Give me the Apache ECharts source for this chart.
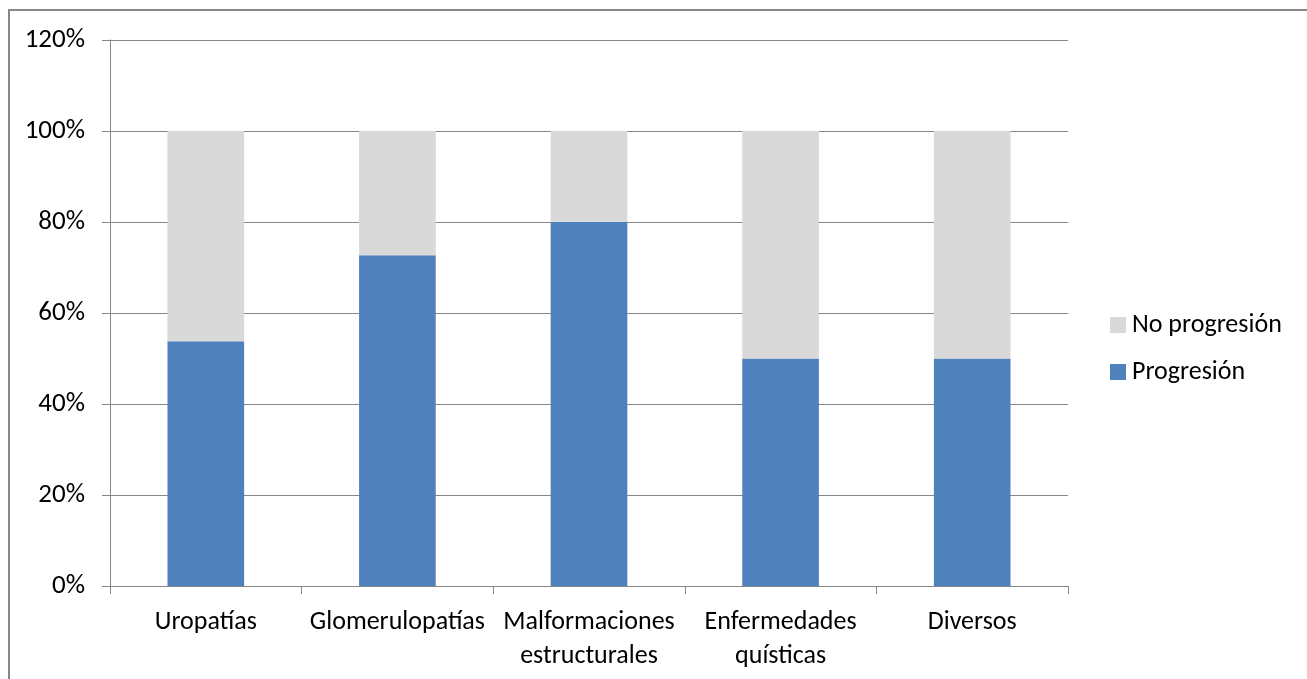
<!DOCTYPE html>
<html>
<head>
<meta charset="utf-8">
<script src="https://cdn.jsdelivr.net/npm/echarts@6/dist/echarts.min.js"></script>
<style>
html,body{margin:0;padding:0;background:#fff;}
#chart{width:1307px;height:679px;}
</style>
</head>
<body>
<div id="chart"></div>
<script>
const categories = ['Uropatías', 'Glomerulopatías', 'Malformaciones\nestructurales', 'Enfermedades\nquísticas', 'Diversos'];
const progresion = [53.8, 72.7, 80, 50, 50];
const noProgresion = [46.2, 27.3, 20, 50, 50];
const seriesNames = ['Progresión', 'No progresión'];
const yTicks = [0, 20, 40, 60, 80, 100, 120];

const FONT = 'Carlito, Lato, "Open Sans", sans-serif';
const GRAY = '#868686';

const chart = echarts.init(document.getElementById('chart'), null, {renderer: 'canvas'});
chart.setOption({
  animation: false,
  backgroundColor: '#fff',
  textStyle: {fontFamily: FONT, color: '#000'},
  graphic: [{
    type: 'rect',
    shape: {x: 9, y: 10, width: 1400, height: 800},
    style: {fill: 'none', stroke: GRAY, lineWidth: 2},
    silent: true
  }],
  grid: {left: 110, top: 40, right: 239, bottom: 93, containLabel: false},
  legend: {
    orient: 'vertical',
    left: 1105,
    top: 306,
    icon: 'rect',
    itemWidth: 16,
    itemHeight: 16,
    itemGap: 19,
    data: [seriesNames[1], seriesNames[0]],
    textStyle: {fontFamily: FONT, fontSize: 26, color: '#000', lineHeight: 28, padding: [0, 0, 0, 1]}
  },
  xAxis: {
    type: 'category',
    data: categories,
    boundaryGap: true,
    axisLine: {lineStyle: {color: GRAY, width: 1}},
    axisTick: {show: true, length: 8, lineStyle: {color: GRAY}},
    axisLabel: {fontFamily: FONT, fontSize: 26, color: '#000', margin: 19, lineHeight: 34, interval: 0}
  },
  yAxis: {
    type: 'value',
    min: 0,
    max: 120,
    interval: 20,
    axisLine: {show: true, lineStyle: {color: GRAY, width: 1}},
    axisTick: {show: true, length: 8, lineStyle: {color: GRAY}},
    splitLine: {show: true, lineStyle: {color: GRAY, width: 1}},
    axisLabel: {
      fontFamily: FONT, fontSize: 27, color: '#000', margin: 25,
      formatter: function (v) { return yTicks.indexOf(v) >= 0 ? v + '%' : ''; }
    }
  },
  series: [
    {
      name: seriesNames[0], type: 'bar', stack: 'total', barWidth: '40%',
      itemStyle: {color: '#4F81BD'}, data: progresion
    },
    {
      name: seriesNames[1], type: 'bar', stack: 'total', barWidth: '40%',
      itemStyle: {color: '#D9D9D9'}, data: noProgresion
    }
  ]
});
</script>
</body>
</html>
